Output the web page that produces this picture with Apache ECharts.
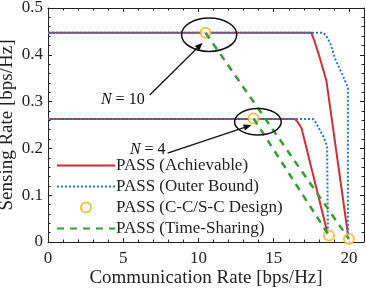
<!DOCTYPE html>
<html>
<head>
<meta charset="utf-8">
<script src="https://cdn.jsdelivr.net/npm/echarts@6/dist/echarts.min.js"></script>
<style>html,body{margin:0;padding:0;background:#fff}#c{width:366px;height:290px}</style>
</head>
<body>
<div id="c"></div>
<script>
// ---- data ----
const xTicks = [0, 5, 10, 15, 20];
const yTicks = [0, 0.1, 0.2, 0.3, 0.4, 0.5];
const seriesNames = ['PASS (Achievable)', 'PASS (Outer Bound)', 'PASS (C-C/S-C Design)', 'PASS (Time-Sharing)'];

const achN10X = [0, 17.5, 17.7, 18.0, 18.5, 19.97];
const achN10Y = [0.447, 0.447, 0.43, 0.40, 0.345, 0.008];
const achN4X = [0, 16.4, 16.6, 16.85, 18.6];
const achN4Y = [0.263, 0.263, 0.256, 0.243, 0.016];

const outN10X = [0, 18.3, 18.5, 18.75, 19.1, 19.6, 19.93, 19.93];
const outN10Y = [0.447, 0.447, 0.44, 0.425, 0.39, 0.355, 0.33, 0.006];
const outN4X = [0, 17.6, 17.8, 18.3, 18.55, 18.6];
const outN4Y = [0.263, 0.263, 0.255, 0.225, 0.205, 0.014];

const designX = [10.47, 20.0, 13.66, 18.67];
const designY = [0.447, 0.0064, 0.264, 0.014];

const tsN10X = [10.47, 20.0];
const tsN10Y = [0.447, 0.0064];
const tsN4X = [13.66, 18.67];
const tsN4Y = [0.264, 0.014];

// annotations (data coordinates)
const annN = ['10', '4'];
const annEllipseCenter = [[10.71, 0.443], [13.95, 0.257]];
const annEllipseRadius = [[1.83, 0.0357], [1.55, 0.0285]];
const annArrowFrom = [[6.76, 0.314], [7.95, 0.190]];
const annArrowTo = [[10.28, 0.426], [13.53, 0.250]];
const annTextPos = [[4.97, 0.304], [6.63, 0.197]];

const zip = (xs, ys) => xs.map((x, i) => [x, ys[i]]);

const FONT = 'Liberation Serif';
const RED = '#cc2f36', BLUE = '#2a78bd', GOLD = '#edb120', GREEN = '#3a9a3a';

const chart = echarts.init(document.getElementById('c'), null, {renderer: 'canvas'});

const axisCommon = {
  axisLine: {show: true, onZero: false, lineStyle: {color: '#222', width: 1}},
  axisTick: {show: true, inside: true, length: 4, lineStyle: {color: '#222'}},
  minorTick: {show: true, splitNumber: 5, length: 2.5, lineStyle: {color: '#222'}},
  splitLine: {show: false},
  minorSplitLine: {show: false}
};

const lineSeries = (name, data, color, type, width) => ({
  name, type: 'line', data, symbol: 'none', showSymbol: false,
  lineStyle: {color, width, type}, itemStyle: {color},
  xAxisIndex: 0, yAxisIndex: 0, animation: false, silent: true
});

const option = {
  animation: false,
  grid: {left: 48, right: 2, top: 8, bottom: 48, containLabel: false, outerBoundsMode: 'none'},
  xAxis: [
    Object.assign({}, axisCommon, {
      type: 'value', min: 0, max: 21, interval: 5, position: 'bottom',
      name: 'Communication Rate [bps/Hz]', nameLocation: 'middle', nameGap: 27,
      nameMoveOverlap: false,
      nameTextStyle: {fontFamily: FONT, fontSize: 19, color: '#222'},
      axisLabel: {fontFamily: FONT, fontSize: 17, color: '#222', margin: 8,
        formatter: v => xTicks.includes(v) ? String(v) : ''}
    }),
    Object.assign({}, axisCommon, {
      type: 'value', min: 0, max: 21, interval: 5, position: 'top',
      axisLabel: {show: false}
    })
  ],
  yAxis: [
    Object.assign({}, axisCommon, {
      type: 'value', min: 0, max: 0.5, interval: 0.1, position: 'left',
      name: 'Sensing Rate [bps/Hz]', nameLocation: 'middle', nameGap: 31,
      nameMoveOverlap: false,
      nameTextStyle: {fontFamily: FONT, fontSize: 19, color: '#222'},
      axisLabel: {fontFamily: FONT, fontSize: 17, color: '#222', margin: 5,
        formatter: v => {
          const t = yTicks.find(k => Math.abs(k - v) < 1e-9);
          return t === undefined ? '' : (t === 0 ? '0' : t.toFixed(1));
        }}
    }),
    Object.assign({}, axisCommon, {
      type: 'value', min: 0, max: 0.5, interval: 0.1, position: 'right',
      axisLabel: {show: false}
    })
  ],
  legend: {
    orient: 'vertical', left: 56, top: 157, padding: 0,
    itemWidth: 58, itemHeight: 10, itemGap: 4,
    data: [
      {name: seriesNames[0], itemStyle: {opacity: 0}},
      {name: seriesNames[1], itemStyle: {opacity: 0}},
      {name: seriesNames[2]},
      {name: seriesNames[3], itemStyle: {opacity: 0}}
    ],
    textStyle: {fontFamily: FONT, fontSize: 17, color: '#222', padding: [0, 0, 0, -4]}
  },
  series: [
    lineSeries(seriesNames[0], zip(achN10X, achN10Y), RED, 'solid', 2),
    lineSeries(seriesNames[0], zip(achN4X, achN4Y), RED, 'solid', 2),
    lineSeries(seriesNames[1], zip(outN10X, outN10Y), BLUE, [2, 2], 2),
    lineSeries(seriesNames[1], zip(outN4X, outN4Y), BLUE, [2, 2], 2),
    {
      name: seriesNames[2], type: 'scatter', data: zip(designX, designY),
      symbol: 'emptyCircle', symbolSize: 10,
      itemStyle: {color: GOLD, borderColor: GOLD, borderWidth: 2},
      z: 3, silent: true
    },
    Object.assign(lineSeries(seriesNames[3], zip(tsN10X, tsN10Y), GREEN, [7, 6], 2.5), {z: 4}),
    Object.assign(lineSeries(seriesNames[3], zip(tsN4X, tsN4Y), GREEN, [7, 6], 2.5), {z: 4})
  ]
};

chart.setOption(option);

// annotations placed from data coordinates
function px(p) { return chart.convertToPixel({xAxisIndex: 0, yAxisIndex: 0}, p); }
const graphics = [];
for (let i = 0; i < annN.length; i++) {
  const c = px(annEllipseCenter[i]);
  const e1 = px([annEllipseCenter[i][0] + annEllipseRadius[i][0], annEllipseCenter[i][1] + annEllipseRadius[i][1]]);
  graphics.push({type: 'ellipse', shape: {cx: c[0], cy: c[1], rx: Math.abs(e1[0] - c[0]), ry: Math.abs(e1[1] - c[1])},
    style: {fill: null, stroke: '#111', lineWidth: 1.5}, z: 10});
  const a = px(annArrowFrom[i]), b = px(annArrowTo[i]);
  const ang = Math.atan2(b[1] - a[1], b[0] - a[0]);
  const L = 8, W = 3.2;
  const bx = b[0] - L * Math.cos(ang), by = b[1] - L * Math.sin(ang);
  graphics.push({type: 'line', shape: {x1: a[0], y1: a[1], x2: bx, y2: by}, style: {stroke: '#111', lineWidth: 1.3}, z: 10});
  graphics.push({type: 'polygon', shape: {points: [
    [b[0], b[1]],
    [bx + W * Math.sin(ang), by - W * Math.cos(ang)],
    [bx - W * Math.sin(ang), by + W * Math.cos(ang)]
  ]}, style: {fill: '#111'}, z: 10});
  const t = px(annTextPos[i]);
  graphics.push({type: 'text', x: t[0], y: t[1], z: 10, style: {
    text: '{i|N} = ' + annN[i], align: 'center', verticalAlign: 'middle',
    fontFamily: FONT, fontSize: 16, fill: '#111',
    rich: {i: {fontFamily: FONT, fontSize: 16, fontStyle: 'italic', fill: '#111'}}
  }});
}
chart.setOption({graphic: graphics});
</script>
</body>
</html>
